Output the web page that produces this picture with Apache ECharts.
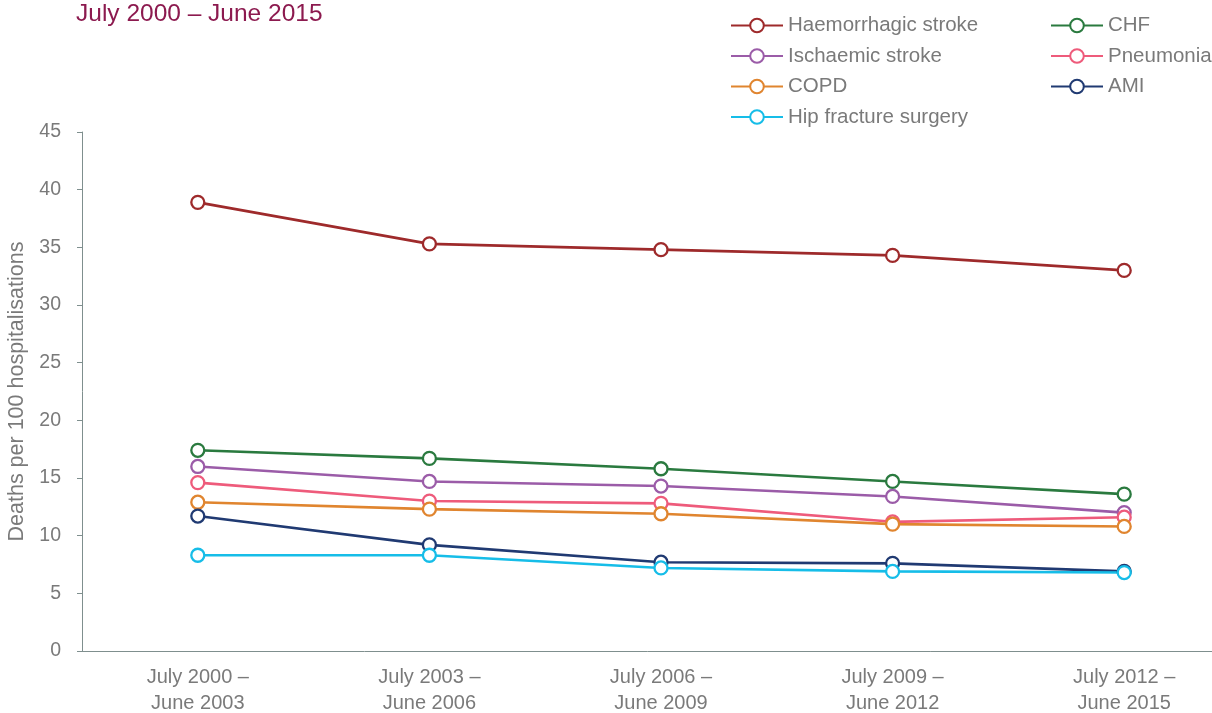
<!DOCTYPE html>
<html>
<head>
<meta charset="utf-8">
<script src="https://cdn.jsdelivr.net/npm/echarts@6/dist/echarts.min.js"></script>
<style>
html,body{margin:0;padding:0;background:#fff;}
#chart{width:1212px;height:713px;}
</style>
</head>
<body>
<div id="chart"></div>
<script>
const titleText = 'July 2000 – June 2015';
const categories = ['July 2000 –\nJune 2003', 'July 2003 –\nJune 2006', 'July 2006 –\nJune 2009', 'July 2009 –\nJune 2012', 'July 2012 –\nJune 2015'];
const yAxisName = 'Deaths per 100 hospitalisations';

const haemorrhagic = [38.9, 35.3, 34.8, 34.3, 33.0];
const chf = [17.4, 16.7, 15.8, 14.7, 13.6];
const ischaemic = [16.0, 14.7, 14.3, 13.4, 12.0];
const pneumonia = [14.6, 13.0, 12.8, 11.2, 11.6];
const copd = [12.9, 12.3, 11.9, 11.0, 10.8];
const ami = [11.7, 9.2, 7.7, 7.6, 6.9];
const hip = [8.3, 8.3, 7.2, 6.9, 6.8];

const seriesDefs = [
  {name: 'Haemorrhagic stroke', data: haemorrhagic, color: '#9e2a2b'},
  {name: 'CHF', data: chf, color: '#2a7a3f'},
  {name: 'Ischaemic stroke', data: ischaemic, color: '#9b5ca8'},
  {name: 'Pneumonia', data: pneumonia, color: '#ee5b7b'},
  {name: 'COPD', data: copd, color: '#e0852f'},
  {name: 'AMI', data: ami, color: '#203a72'},
  {name: 'Hip fracture surgery', data: hip, color: '#16bde8'}
];

const leftLegend = ['Haemorrhagic stroke', 'Ischaemic stroke', 'COPD', 'Hip fracture surgery'];
const rightLegend = ['CHF', 'Pneumonia', 'AMI'];

const FONT = 'Liberation Sans';
const textGray = '#7a7a7a';
const axisColor = '#7f8f8e';

const chart = echarts.init(document.getElementById('chart'), null, {renderer: 'canvas'});

const legendCommon = {
  orient: 'vertical',
  top: 15,
  itemWidth: 52,
  itemHeight: 17,
  itemGap: 9.5,
  textStyle: {fontFamily: FONT, fontSize: 20.5, color: textGray, lineHeight: 21},
  padding: 0
};

chart.setOption({
  animation: false,
  backgroundColor: '#ffffff',
  title: {
    text: titleText,
    left: 76,
    top: 2,
    padding: 0,
    textStyle: {fontFamily: FONT, fontSize: 24.5, fontWeight: 'normal', color: '#8c1a4f'}
  },
  legend: [
    Object.assign({}, legendCommon, {left: 730, data: leftLegend}),
    Object.assign({}, legendCommon, {left: 1050, data: rightLegend})
  ],
  grid: {left: 82, right: -28, top: 132, bottom: 62, containLabel: false, outerBoundsMode: 'none'},
  xAxis: {
    type: 'category',
    data: categories,
    boundaryGap: true,
    axisLine: {lineStyle: {color: axisColor, width: 1}},
    axisTick: {alignWithLabel: true, inside: true, length: 8, lineStyle: {color: axisColor}},
    axisLabel: {fontFamily: FONT, fontSize: 20, color: textGray, lineHeight: 26, margin: 13}
  },
  yAxis: {
    type: 'value',
    min: 0,
    max: 45,
    interval: 5,
    name: yAxisName,
    nameLocation: 'middle',
    nameGap: 52,
    nameTextStyle: {fontFamily: FONT, fontSize: 21.5, color: textGray},
    splitLine: {show: false},
    axisLine: {show: true, lineStyle: {color: axisColor, width: 1}},
    axisTick: {show: true, length: 5, lineStyle: {color: axisColor}},
    axisLabel: {fontFamily: FONT, fontSize: 19.5, color: textGray, margin: 21}
  },
  series: seriesDefs.map(s => ({
    name: s.name,
    type: 'line',
    data: s.data,
    color: s.color,
    symbol: 'circle',
    symbolSize: 13,
    showAllSymbol: true,
    lineStyle: {color: s.color, width: 2.6},
    itemStyle: {color: '#ffffff', borderColor: s.color, borderWidth: 2.3},
    emphasis: {disabled: true}
  }))
});
</script>
</body>
</html>
